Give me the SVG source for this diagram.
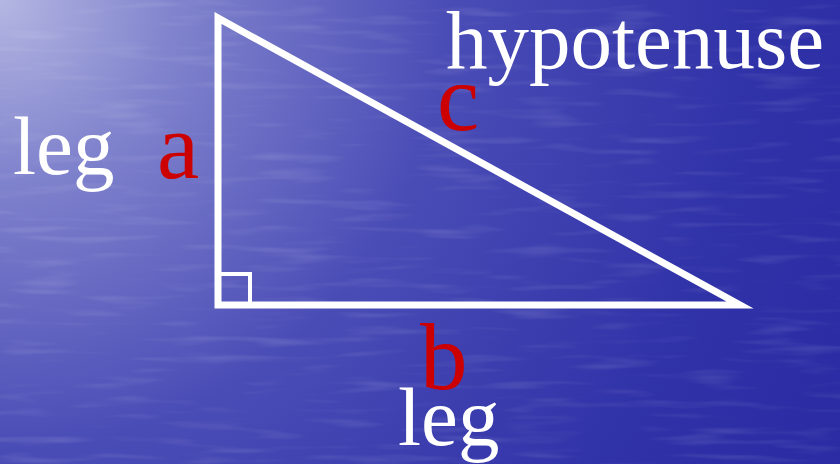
<svg xmlns="http://www.w3.org/2000/svg" width="840" height="464" viewBox="0 0 840 464">
  <defs>
    <radialGradient id="bg" cx="0" cy="0" r="1000" gradientUnits="userSpaceOnUse">
      <stop offset="0" stop-color="#b4b6e2"/>
      <stop offset="0.18" stop-color="#7f82cc"/>
      <stop offset="0.45" stop-color="#4a4cb6"/>
      <stop offset="0.75" stop-color="#3032a8"/>
      <stop offset="1" stop-color="#2a2aa2"/>
    </radialGradient>
    <filter id="water" x="0" y="0" width="100%" height="100%">
      <feTurbulence type="fractalNoise" baseFrequency="0.012 0.11" numOctaves="2" seed="4" result="n"/>
      <feColorMatrix in="n" type="matrix" values="0 0 0 0 1  0 0 0 0 1  0 0 0 0 1  0 0 0 1.6 -0.85"/>
    </filter>
    <style>
      .tri { fill: none; stroke: #ffffff; stroke-width: 7; stroke-linejoin: miter; stroke-miterlimit: 10; }
      .sq { fill: none; stroke: #ffffff; stroke-width: 4; }
      .white { font-family: "Liberation Serif", "Times New Roman", serif; fill: #ffffff; font-size: 83px; }
      .red { font-family: "Liberation Serif", "Times New Roman", serif; fill: #cc0000; font-size: 95px; }
    </style>
  </defs>
  <rect width="840" height="464" fill="url(#bg)"/>
  <rect width="840" height="464" filter="url(#water)" opacity="0.2"/>
  <g id="triangle">
    <path class="tri" d="M218,18 L218,305 L740,305 Z"/>
    <path class="sq" d="M218,274 H250 V305"/>
  </g>
  <g id="connectors"/>
  <g id="labels">
    <text class="white" x="446" y="68">hypotenuse</text>
    <text class="red" x="437" y="130">c</text>
    <text class="white" x="13" y="174">leg</text>
    <text class="red" x="157" y="178">a</text>
    <text class="red" x="420" y="389">b</text>
    <text class="white" x="398" y="445">leg</text>
  </g>
</svg>
